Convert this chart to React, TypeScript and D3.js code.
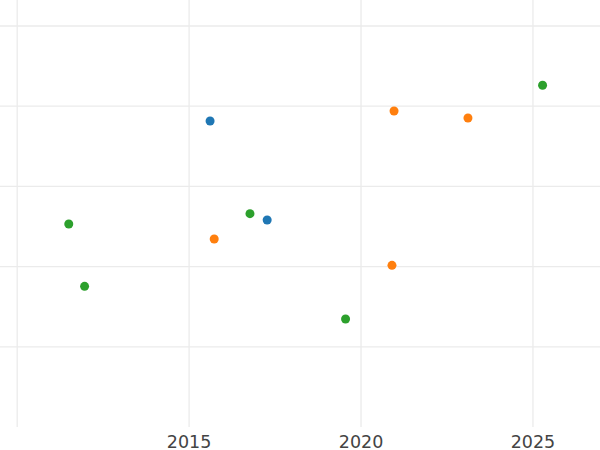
import React from "react";
import * as d3 from "d3";

const blueX = [2015.61, 2017.27];
const blueY = [38.15, 25.81];
const orangeX = [2015.73, 2020.9, 2020.96, 2023.11];
const orangeY = [23.44, 20.16, 39.4, 38.53];
const greenX = [2011.5, 2011.96, 2016.77, 2019.55, 2025.28];
const greenY = [25.31, 17.54, 26.6, 13.47, 42.61];
const xGridTicks = [2010, 2015, 2020, 2025];
const xLabelTicks = [2015, 2020, 2025];
const yGridTicks = [10, 20, 30, 40, 50];

const series = [
  { name: "A", color: "#1f77b4", xs: blueX, ys: blueY },
  { name: "B", color: "#ff7f0e", xs: orangeX, ys: orangeY },
  { name: "C", color: "#2ca02c", xs: greenX, ys: greenY },
];

export default function App() {
  const W = 600;
  const H = 450;
  const plotBottom = 427;
  const x = d3.scaleLinear().domain([2009.5, 2026.95]).range([0, W]);
  const y = d3.scaleLinear().domain([0, 53.24]).range([plotBottom, 0]);

  return (
    <svg
      width={W}
      height={H}
      style={{ position: "absolute", left: 0, top: 0, background: "#fff" }}
    >
      <g>
        {yGridTicks.map((t) => (
          <line
            key={"y" + t}
            x1={0}
            x2={W}
            y1={y(t)}
            y2={y(t)}
            stroke="#ebebeb"
            strokeWidth={1.3}
          />
        ))}
        {xGridTicks.map((t) => (
          <line
            key={"x" + t}
            x1={x(t)}
            x2={x(t)}
            y1={0}
            y2={plotBottom}
            stroke="#ebebeb"
            strokeWidth={1.3}
          />
        ))}
      </g>
      <g>
        {series.map((s) =>
          s.xs.map((xv, i) => (
            <circle
              key={s.name + i}
              cx={x(xv)}
              cy={y(s.ys[i])}
              r={4.5}
              fill={s.color}
            />
          ))
        )}
      </g>
      <g>
        {xLabelTicks.map((t) => (
          <text
            key={"l" + t}
            x={x(t)}
            y={447.5}
            textAnchor="middle"
            fontFamily="DejaVu Sans"
            fontSize={17.5}
            fill="#444"
          >
            {t}
          </text>
        ))}
      </g>
    </svg>
  );
}
